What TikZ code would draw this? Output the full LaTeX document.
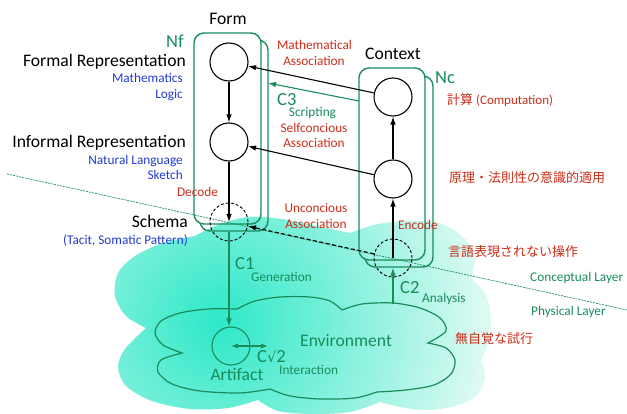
\documentclass[tikz,border=0pt]{standalone}
\usepackage{fontspec}
\setmainfont{Carlito}
\newfontfamily\jpf{Noto Sans CJK JP}
\newfontfamily\djv{DejaVu Sans}
\usetikzlibrary{arrows.meta}
\definecolor{gr}{RGB}{25,140,90}
\definecolor{rd}{RGB}{205,45,25}
\definecolor{bl}{RGB}{35,60,210}
\definecolor{cyc}{RGB}{45,232,200}
\definecolor{pal}{RGB}{232,251,245}
\begin{document}
\begin{tikzpicture}[x=1pt,y=-1pt,
 big/.style={font=\fontsize{17.6}{20}\selectfont, inner sep=0pt},
 sml/.style={font=\fontsize{13.3}{15}\selectfont, inner sep=0pt},
 clab/.style={font=\fontsize{18.5}{22}\selectfont, text=gr, inner sep=0pt},
 jp/.style={font=\fontsize{13}{15}\selectfont, text=rd, inner sep=0pt},
 circ/.style={circle, draw=black, line width=1.1pt, minimum size=38pt, inner sep=0pt},
 dcirc/.style={circ, dash pattern=on 3pt off 2pt, line width=0.9pt},
 boxf/.style={draw=gr, line width=1.4pt, rounded corners=10pt, inner sep=0pt},
 arr/.style={-{Latex[length=8pt,width=5.5pt]}, line width=1.1pt},
 garr/.style={arr, draw=gr},
]
\useasboundingbox (0,0) rectangle (627,414);
% outer shaded cloud
\begin{scope}
\clip (146,328) -- plot[smooth] coordinates {(146,328) (126,316) (115,296) (118,273) (135,256) (163,243) (195,236)}
 -- plot[smooth] coordinates {(195,236) (218,225) (248,217) (282,219) (316,226) (350,233)}
 -- plot[smooth] coordinates {(350,233) (378,224) (412,221) (442,224) (463,237) (475,256) (471,278)}
 -- plot[smooth] coordinates {(471,278) (486,295) (491,320) (488,343) (481,360)}
 -- plot[smooth] coordinates {(481,360) (485,378) (476,396) (455,406) (428,410) (400,407) (380,402)}
 -- plot[smooth] coordinates {(380,402) (350,412) (312,414) (278,411) (258,400)}
 -- plot[smooth] coordinates {(258,400) (228,408) (190,409) (152,401) (126,386) (118,367) (125,349) (146,328)}
 -- cycle;
\fill[pal] (0,0) rectangle (627,414);
\shade[inner color=cyc, outer color=pal] (218,322) circle (285);
\end{scope}
% layer boundary
\coordinate (L1) at (7,174);
\coordinate (L2) at (627,310);
\draw[gr, line width=0.7pt, dash pattern=on 2pt off 1pt] (L1) -- (L2);
% inner cloud
\draw[gr, line width=1.2pt] (182,353) -- plot[smooth] coordinates {(182,353) (163,345) (155,333) (161,321) (180,313) (208,309) (237,309)}
 -- plot[smooth] coordinates {(237,309) (255,301) (280,297) (310,297) (330,301) (342,310)}
 -- plot[smooth] coordinates {(342,310) (362,304) (393,303) (420,308) (440,318) (446,331) (428,343)}
 -- plot[smooth] coordinates {(428,343) (446,348) (455,360) (451,374) (434,385) (406,390) (377,392)}
 -- plot[smooth] coordinates {(377,392) (355,398) (320,399) (290,396) (270,389)}
 -- plot[smooth] coordinates {(270,389) (240,393) (200,391) (172,384) (158,372) (161,360) (182,353)}
 -- cycle;
% back boxes
\begin{scope}[even odd rule, rounded corners=10pt]
\clip (-20,-20) rectangle (647,434) (194,33) rectangle (261,224) (359,68) rectangle (425,260);
\node[boxf, minimum width=68pt, minimum height=191pt] (backF) at (234,135.5) {};
\node[boxf, minimum width=68pt, minimum height=191pt] (backC) at (399,171.5) {};
\end{scope}
% front boxes
\node[boxf, minimum width=67pt, minimum height=191pt] (frontF) at (227.5,128.5) {};
\node[boxf, minimum width=66pt, minimum height=192pt] (frontC) at (392,164) {};
% circles
\node[circ] (f1) at (229,62) {};
\node[circ] (f2) at (229,142) {};
\node[dcirc] (f3) at (229,222) {};
\node[circ] (c1) at (393,97) {};
\node[circ] (c2) at (393,179) {};
\node[dcirc] (c3) at (393,258) {};
\node[circle, draw=gr, line width=1.1pt, minimum size=38pt, inner sep=0pt] (art) at (231,346) {};
% arrows
\draw[arr] (f1) -- (f2);
\draw[arr] (f2) -- (f3.center);
\draw[garr] (backF.south -| f3) -- (art.north -| f3);
\draw[arr] (c2) -- (c1);
\draw[arr] (c3.center) -- (c2);
\coordinate (envtop) at (393,304);
\draw[garr] (envtop) -- (backC.south -| envtop);
\draw[arr] (c1) -- (f1);
\draw[arr] (c2) -- (f2);
\draw[arr, dash pattern=on 4pt off 2.5pt] (c3) -- (f3);
\coordinate (c3a) at (359,101);
\coordinate (c3b) at (268,83);
\draw[garr] (c3a) -- (c3b);
\coordinate (artR) at (268,346);
\draw[gr, line width=1.1pt, {Latex[length=7pt,width=5pt]}-{Latex[length=7pt,width=5pt]}] (art.center) -- (artR);
% texts
\node[big, anchor=base] (tform) at (228,25) {Form};
\node[big, anchor=base] (tctx) at (393,60) {Context};
\node[clab, anchor=base east] (tnf) at (184,48) {Nf};
\node[big, anchor=base east] (tfr) at (186,67) {Formal Representation};
\node[sml, text=bl, anchor=base east] (tma) at (183,83) {Mathematics};
\node[sml, text=bl, anchor=base east] (tlo) at (183,99) {Logic};
\node[big, anchor=base east] (tir) at (186,148) {Informal Representation};
\node[sml, text=bl, anchor=base east] (tnl) at (183,165) {Natural Language};
\node[sml, text=bl, anchor=base east] (tsk) at (183,180) {Sketch};
\node[sml, text=rd, anchor=base] (tdec) at (197.5,197) {Decode};
\node[big, anchor=base east] (tsch) at (188,228) {Schema};
\node[sml, text=bl, anchor=base east] (ttac) at (188,245) {(Tacit, Somatic Pattern)};
\node[sml, text=rd, anchor=base] (tmat) at (314.5,50) {Mathematical};
\node[sml, text=rd, anchor=base] (tass1) at (314,66) {Association};
\node[clab, anchor=base west] (tc3) at (277,106) {C3};
\node[sml, text=gr, anchor=base] (tscr) at (312.5,117) {Scripting};
\node[sml, text=rd, anchor=base] (tsel) at (314,133) {Selfconcious};
\node[sml, text=rd, anchor=base] (tass2) at (314,148) {Association};
\node[sml, text=rd, anchor=base] (tunc) at (316,213) {Unconcious};
\node[sml, text=rd, anchor=base] (tass3) at (316,229) {Association};
\node[sml, text=rd, anchor=base] (tenc) at (418,230) {Encode};
\node[clab, anchor=base west] (tnc) at (435,84) {Nc};
\node[jp, anchor=base west] (tj1) at (447,105) {{\jpf 計算} (Computation)};
\node[jp, anchor=base west] (tj2) at (449,183) {\jpf 原理・法則性の意識的適用};
\node[jp, anchor=base west] (tj3) at (448,257) {\jpf 言語表現されない操作};
\node[sml, text=gr, anchor=base west] (tcl) at (530,282) {Conceptual Layer};
\node[sml, text=gr, anchor=base west] (tpl) at (531,316) {Physical Layer};
\node[jp, anchor=base west] (tj4) at (455,343) {\jpf 無自覚な試行};
\node[clab, anchor=base west] (tc1) at (235,270) {C1};
\node[sml, text=gr, anchor=base west] (tgen) at (251,282) {Generation};
\node[clab, anchor=base west] (tc2) at (400,294) {C2};
\node[sml, text=gr, anchor=base west] (tana) at (422,302) {Analysis};
\node[big, text=gr, anchor=base west] (tenv) at (300,346) {Environment};
\node[big, text=gr, anchor=base] (tart) at (237,381) {Artifact};
\node[clab, anchor=base west] (tc22) at (257,362) {C{\djv\fontsize{14.5}{18}\selectfont √}2};
\node[sml, text=gr, anchor=base west] (tint) at (279,374) {Interaction};
\end{tikzpicture}
\end{document}
